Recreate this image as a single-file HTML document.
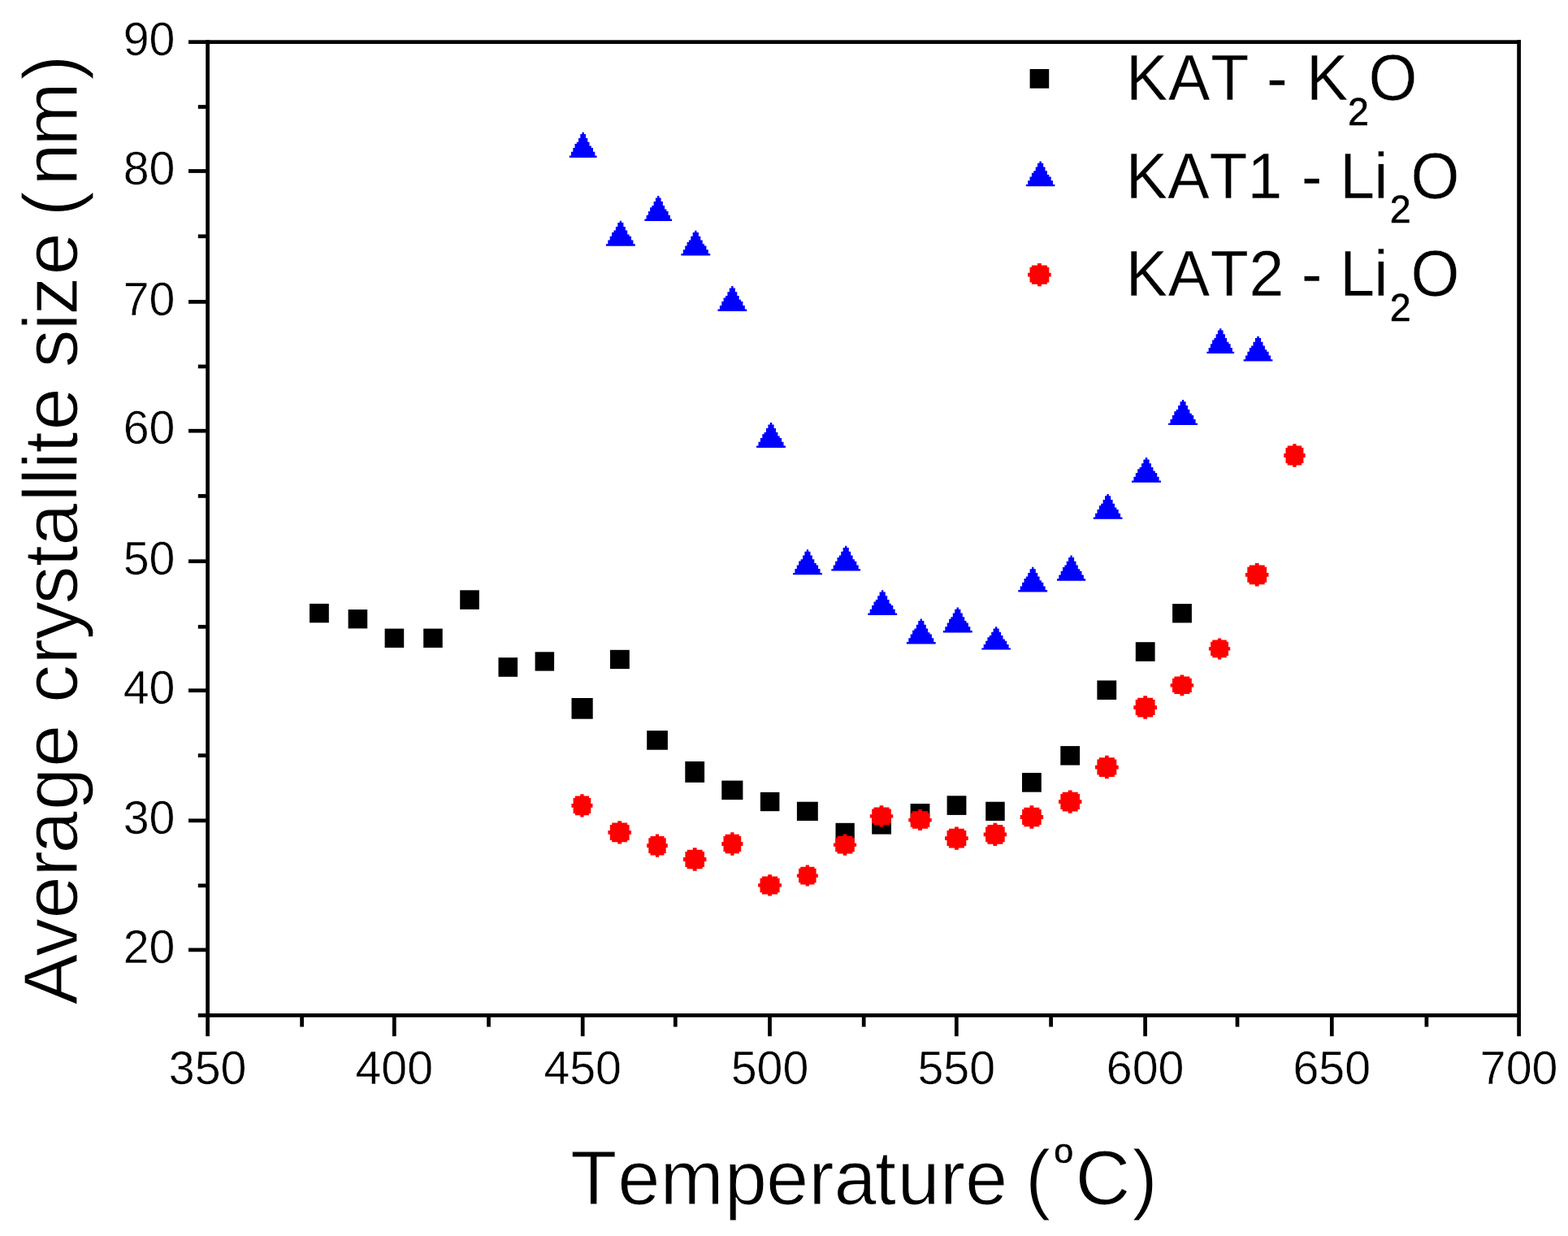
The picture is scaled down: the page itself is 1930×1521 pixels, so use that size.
<!DOCTYPE html>
<html lang="en">
<head>
<meta charset="utf-8">
<title>Average crystallite size vs temperature</title>
<style>
html,body{margin:0;padding:0;background:#fff;}
body{width:1930px;height:1521px;overflow:hidden;}
svg{display:block;}
text{font-family:"Liberation Sans",sans-serif;fill:#000;font-kerning:none;font-variant-ligatures:none;}
.tk{font-size:57.3px;stroke:#fff;stroke-width:0.5px;}
.ttl{font-size:94px;stroke:#fff;stroke-width:1.2px;}
.lg{font-size:77px;stroke:#fff;stroke-width:0.4px;}
.sub{font-size:46.5px;stroke:#000;stroke-width:0.6px;}
.sup{font-size:43px;stroke:#000;stroke-width:0.5px;}
</style>
</head>
<body>
<svg width="1930" height="1521" viewBox="0 0 1930 1521">
<rect x="0" y="0" width="1930" height="1521" fill="#fff"/>

<g fill="#000">
<rect x="253.24" y="49.34" width="4.72" height="1225.86"/>
<rect x="1867.24" y="49.34" width="4.72" height="1225.86"/>
<rect x="232" y="49.34" width="1639.96" height="4.72"/>
<rect x="243.8" y="1247.09" width="1628.16" height="4.72"/>
<rect x="232" y="1166.54" width="23.6" height="4.72"/>
<rect x="232" y="1007.44" width="23.6" height="4.72"/>
<rect x="232" y="847.34" width="23.6" height="4.72"/>
<rect x="232" y="688.34" width="23.6" height="4.72"/>
<rect x="232" y="527.84" width="23.6" height="4.72"/>
<rect x="232" y="369.04" width="23.6" height="4.72"/>
<rect x="232" y="208.14" width="23.6" height="4.72"/>
<rect x="243.8" y="1087.44" width="11.8" height="4.72"/>
<rect x="243.8" y="927.34" width="11.8" height="4.72"/>
<rect x="243.8" y="768.94" width="11.8" height="4.72"/>
<rect x="243.8" y="608.04" width="11.8" height="4.72"/>
<rect x="243.8" y="448.64" width="11.8" height="4.72"/>
<rect x="243.8" y="288.44" width="11.8" height="4.72"/>
<rect x="243.8" y="129.14" width="11.8" height="4.72"/>
<rect x="482.94" y="1249.45" width="4.72" height="25.75"/>
<rect x="714.84" y="1249.45" width="4.72" height="25.75"/>
<rect x="945.14" y="1249.45" width="4.72" height="25.75"/>
<rect x="1174.94" y="1249.45" width="4.72" height="25.75"/>
<rect x="1407.24" y="1249.45" width="4.72" height="25.75"/>
<rect x="1636.94" y="1249.45" width="4.72" height="25.75"/>
<rect x="369.24" y="1249.45" width="4.72" height="14.15"/>
<rect x="599.14" y="1249.45" width="4.72" height="14.15"/>
<rect x="828.94" y="1249.45" width="4.72" height="14.15"/>
<rect x="1060.84" y="1249.45" width="4.72" height="14.15"/>
<rect x="1291.24" y="1249.45" width="4.72" height="14.15"/>
<rect x="1520.64" y="1249.45" width="4.72" height="14.15"/>
<rect x="1753.54" y="1249.45" width="4.72" height="14.15"/>
</g>
<g class="tk" text-anchor="end">
<text x="215.4" y="1185.15">20</text>
<text x="215.4" y="1026.05">30</text>
<text x="215.4" y="865.95">40</text>
<text x="215.4" y="706.95">50</text>
<text x="215.4" y="546.45">60</text>
<text x="215.4" y="387.65">70</text>
<text x="215.4" y="226.75">80</text>
<text x="215.4" y="67.95">90</text>
</g>
<g class="tk" text-anchor="middle">
<text x="255.6" y="1334.2">350</text>
<text x="485.3" y="1334.2">400</text>
<text x="717.2" y="1334.2">450</text>
<text x="947.5" y="1334.2">500</text>
<text x="1177.3" y="1334.2">550</text>
<text x="1409.6" y="1334.2">600</text>
<text x="1639.3" y="1334.2">650</text>
<text x="1869.6" y="1334.2">700</text>
</g>
<text class="ttl" y="1481.6" x="701.9 760.3 812.5 891.8 943 995.2 1026.4 1077.1 1104.6 1156.8 1188 1240.2 1262">Temperature (<tspan class="sup" x="1297.2" dy="-50.6">o</tspan><tspan x="1323.4 1393.6" dy="50.6">C)</tspan></text>
<text class="ttl" transform="translate(94.8 0) rotate(-90)" y="0" x="-1236.6 -1177 -1130.4 -1078.6 -1050.4 -997 -944 -892.1 -865 -817.4 -787 -743.6 -697.3 -671.8 -617.5 -596.8 -577.3 -557.4 -529.5 -477.3 -452.4 -406.6 -387.7 -338.4 -286 -266.4 -228.5 -179.6 -98.8">Average crystallite size (nm)</text>
<g fill="#000"><rect x="1267.6" y="85" width="23.6" height="23.7"/></g>
<g fill="#0000ff"><polygon points="1279.4,198.4 1281.8,198.4 1281.8,200.8 1284.2,200.8 1284.2,205.5 1286.5,205.5 1286.5,210.3 1288.9,210.3 1288.9,215 1291.3,215 1291.3,217.4 1293.7,217.4 1293.7,222.2 1296,222.2 1296,226.9 1298.4,226.9 1298.4,229.3 1262.8,229.3 1262.8,226.9 1265.2,226.9 1265.2,222.2 1267.5,222.2 1267.5,217.4 1269.9,217.4 1269.9,212.7 1272.3,212.7 1272.3,210.3 1274.7,210.3 1274.7,205.5 1277,205.5 1277,200.8 1279.4,200.8"/></g>
<g fill="#ff0000"><polygon points="1277,324 1281.8,324 1281.8,326.4 1288.9,326.4 1288.9,328.7 1291.3,328.7 1291.3,335.8 1293.7,335.8 1293.7,340.4 1291.3,340.4 1291.3,347.5 1288.9,347.5 1288.9,349.8 1281.8,349.8 1281.8,352.2 1277,352.2 1277,349.8 1269.9,349.8 1269.9,347.5 1267.5,347.5 1267.5,340.4 1265.1,340.4 1265.1,335.8 1267.5,335.8 1267.5,328.7 1269.9,328.7 1269.9,326.4 1277,326.4"/></g>
<text class="lg" transform="translate(0 123) scale(1 1.03)" y="0" x="1386 1438.1 1490.2 1538 1559.1 1584.7 1608">KAT - K<tspan class="sub" x="1658.9" dy="29.61">2</tspan><tspan x="1684.6" dy="-29.61">O</tspan></text>
<text class="lg" transform="translate(0 243.7) scale(1 1.03)" y="0" x="1385.8 1437.2 1488.5 1535.5 1578.3 1601.7 1627.3 1649.2 1691.2">KAT1 - Li<tspan class="sub" x="1710.8" dy="29.61">2</tspan><tspan x="1736.4" dy="-29.61">O</tspan></text>
<text class="lg" transform="translate(0 364.4) scale(1 1.03)" y="0" x="1385.8 1437.8 1489.8 1537.5 1581 1601.7 1627.3 1649.2 1691.2">KAT2 - Li<tspan class="sub" x="1710.8" dy="29.61">2</tspan><tspan x="1736.4" dy="-29.61">O</tspan></text>
<g fill="#000">
<rect x="381" y="742.9" width="23.8" height="23.4"/>
<rect x="428.6" y="750.1" width="23.6" height="23.3"/>
<rect x="473.6" y="773.6" width="23.6" height="23.4"/>
<rect x="521.2" y="773.6" width="23.5" height="23.4"/>
<rect x="566.2" y="726.3" width="23.6" height="23.6"/>
<rect x="613.5" y="809.2" width="23.6" height="23.6"/>
<rect x="658.6" y="802.3" width="23.5" height="23.3"/>
<rect x="703.5" y="859" width="26.2" height="25.7"/>
<rect x="751" y="799.8" width="23.8" height="23.3"/>
<rect x="796.2" y="899.1" width="25.7" height="23.6"/>
<rect x="843.3" y="937" width="23.8" height="25.9"/>
<rect x="888.3" y="960.6" width="26.1" height="23.5"/>
<rect x="935.9" y="974.9" width="23.5" height="23.3"/>
<rect x="980.9" y="986.7" width="25.9" height="23.3"/>
<rect x="1028.5" y="1012.8" width="23.3" height="23.6"/>
<rect x="1073.2" y="1003" width="23.8" height="23.6"/>
<rect x="1120.6" y="989" width="23.8" height="23.6"/>
<rect x="1165.6" y="979.3" width="23.8" height="23.6"/>
<rect x="1213.2" y="986.7" width="23.5" height="23.3"/>
<rect x="1258" y="951.1" width="23.8" height="23.6"/>
<rect x="1305.3" y="918.1" width="23.8" height="23.5"/>
<rect x="1350.4" y="837.4" width="23.8" height="23.6"/>
<rect x="1397.8" y="790.2" width="23.8" height="23.6"/>
<rect x="1443.1" y="743.1" width="23.8" height="23.3"/>
</g>
<g fill="#0000ff">
<polygon points="716.5,162.7 718.8,162.7 718.8,165.1 721,165.1 721,169.9 723.3,169.9 723.3,174.7 725.5,174.7 725.5,179.5 727.8,179.5 727.8,181.9 730,181.9 730,186.7 732.3,186.7 732.3,191.5 734.5,191.5 734.5,193.9 700.8,193.9 700.8,191.5 703,191.5 703,186.7 705.3,186.7 705.3,181.9 707.5,181.9 707.5,177.1 709.8,177.1 709.8,174.7 712,174.7 712,169.9 714.3,169.9 714.3,165.1 716.5,165.1"/>
<polygon points="762.7,271.7 765,271.7 765,274.1 767.4,274.1 767.4,278.9 769.8,278.9 769.8,283.6 772.2,283.6 772.2,288.4 774.6,288.4 774.6,290.8 777,290.8 777,295.5 779.4,295.5 779.4,300.3 781.8,300.3 781.8,302.7 745.9,302.7 745.9,300.3 748.3,300.3 748.3,295.5 750.7,295.5 750.7,290.8 753.1,290.8 753.1,286 755.5,286 755.5,283.6 757.9,283.6 757.9,278.9 760.3,278.9 760.3,274.1 762.7,274.1"/>
<polygon points="809.1,241 811.4,241 811.4,243.4 813.6,243.4 813.6,248.1 815.9,248.1 815.9,252.9 818.1,252.9 818.1,257.6 820.4,257.6 820.4,260 822.6,260 822.6,264.8 824.9,264.8 824.9,269.5 827.1,269.5 827.1,271.9 793.4,271.9 793.4,269.5 795.6,269.5 795.6,264.8 797.9,264.8 797.9,260 800.1,260 800.1,255.3 802.4,255.3 802.4,252.9 804.6,252.9 804.6,248.1 806.9,248.1 806.9,243.4 809.1,243.4"/>
<polygon points="855.1,283.7 857.5,283.7 857.5,286.1 859.9,286.1 859.9,290.8 862.3,290.8 862.3,295.5 864.7,295.5 864.7,300.2 867,300.2 867,302.6 869.4,302.6 869.4,307.3 871.8,307.3 871.8,312 874.2,312 874.2,314.4 838.4,314.4 838.4,312 840.8,312 840.8,307.3 843.2,307.3 843.2,302.6 845.6,302.6 845.6,297.9 847.9,297.9 847.9,295.5 850.3,295.5 850.3,290.8 852.7,290.8 852.7,286.1 855.1,286.1"/>
<polygon points="900.2,352.1 902.5,352.1 902.5,354.5 904.9,354.5 904.9,359.2 907.3,359.2 907.3,364 909.7,364 909.7,368.7 912.1,368.7 912.1,371.1 914.4,371.1 914.4,375.9 916.8,375.9 916.8,380.6 919.2,380.6 919.2,383 883.5,383 883.5,380.6 885.9,380.6 885.9,375.9 888.3,375.9 888.3,371.1 890.6,371.1 890.6,366.4 893,366.4 893,364 895.4,364 895.4,359.2 897.8,359.2 897.8,354.5 900.2,354.5"/>
<polygon points="947.8,520 950.2,520 950.2,522.4 952.6,522.4 952.6,527.1 955,527.1 955,531.9 957.4,531.9 957.4,536.6 959.7,536.6 959.7,539 962.1,539 962.1,543.8 964.5,543.8 964.5,548.5 966.9,548.5 966.9,550.9 931.1,550.9 931.1,548.5 933.5,548.5 933.5,543.8 935.9,543.8 935.9,539 938.3,539 938.3,534.3 940.6,534.3 940.6,531.9 943,531.9 943,527.1 945.4,527.1 945.4,522.4 947.8,522.4"/>
<polygon points="992.8,676.3 995.1,676.3 995.1,678.7 997.5,678.7 997.5,683.5 999.9,683.5 999.9,688.2 1002.3,688.2 1002.3,693 1004.7,693 1004.7,695.4 1007.1,695.4 1007.1,700.1 1009.5,700.1 1009.5,704.9 1011.9,704.9 1011.9,707.3 976,707.3 976,704.9 978.4,704.9 978.4,700.1 980.8,700.1 980.8,695.4 983.2,695.4 983.2,690.6 985.6,690.6 985.6,688.2 988,688.2 988,683.5 990.4,683.5 990.4,678.7 992.8,678.7"/>
<polygon points="1040,671.7 1042.4,671.7 1042.4,674.1 1044.8,674.1 1044.8,678.8 1047.2,678.8 1047.2,683.6 1049.6,683.6 1049.6,688.3 1051.9,688.3 1051.9,690.7 1054.3,690.7 1054.3,695.5 1056.7,695.5 1056.7,700.2 1059.1,700.2 1059.1,702.6 1023.3,702.6 1023.3,700.2 1025.7,700.2 1025.7,695.5 1028.1,695.5 1028.1,690.7 1030.5,690.7 1030.5,686 1032.8,686 1032.8,683.6 1035.2,683.6 1035.2,678.8 1037.6,678.8 1037.6,674.1 1040,674.1"/>
<polygon points="1085,726.2 1087.4,726.2 1087.4,728.6 1089.8,728.6 1089.8,733.3 1092.2,733.3 1092.2,738 1094.6,738 1094.6,742.7 1096.9,742.7 1096.9,745.1 1099.3,745.1 1099.3,749.8 1101.7,749.8 1101.7,754.5 1104.1,754.5 1104.1,756.9 1068.3,756.9 1068.3,754.5 1070.7,754.5 1070.7,749.8 1073.1,749.8 1073.1,745.1 1075.5,745.1 1075.5,740.4 1077.8,740.4 1077.8,738 1080.2,738 1080.2,733.3 1082.6,733.3 1082.6,728.6 1085,728.6"/>
<polygon points="1132.6,761.5 1135,761.5 1135,763.9 1137.4,763.9 1137.4,768.7 1139.8,768.7 1139.8,773.4 1142.2,773.4 1142.2,778.2 1144.5,778.2 1144.5,780.6 1146.9,780.6 1146.9,785.3 1149.3,785.3 1149.3,790.1 1151.7,790.1 1151.7,792.5 1115.9,792.5 1115.9,790.1 1118.3,790.1 1118.3,785.3 1120.7,785.3 1120.7,780.6 1123.1,780.6 1123.1,775.8 1125.4,775.8 1125.4,773.4 1127.8,773.4 1127.8,768.7 1130.2,768.7 1130.2,763.9 1132.6,763.9"/>
<polygon points="1177.6,747.4 1180,747.4 1180,749.8 1182.4,749.8 1182.4,754.6 1184.8,754.6 1184.8,759.3 1187.2,759.3 1187.2,764.1 1189.5,764.1 1189.5,766.5 1191.9,766.5 1191.9,771.2 1194.3,771.2 1194.3,776 1196.7,776 1196.7,778.4 1160.9,778.4 1160.9,776 1163.3,776 1163.3,771.2 1165.7,771.2 1165.7,766.5 1168.1,766.5 1168.1,761.7 1170.4,761.7 1170.4,759.3 1172.8,759.3 1172.8,754.6 1175.2,754.6 1175.2,749.8 1177.6,749.8"/>
<polygon points="1225,771.2 1227.3,771.2 1227.3,773.4 1229.7,773.4 1229.7,777.8 1232.1,777.8 1232.1,782.1 1234.5,782.1 1234.5,786.5 1236.9,786.5 1236.9,788.7 1239.2,788.7 1239.2,793 1241.6,793 1241.6,797.4 1244,797.4 1244,799.6 1208.3,799.6 1208.3,797.4 1210.7,797.4 1210.7,793 1213.1,793 1213.1,788.7 1215.4,788.7 1215.4,784.3 1217.8,784.3 1217.8,782.1 1220.2,782.1 1220.2,777.8 1222.6,777.8 1222.6,773.4 1225,773.4"/>
<polygon points="1270,697.8 1272.4,697.8 1272.4,700.2 1274.8,700.2 1274.8,704.9 1277.2,704.9 1277.2,709.6 1279.6,709.6 1279.6,714.3 1281.9,714.3 1281.9,716.7 1284.3,716.7 1284.3,721.4 1286.7,721.4 1286.7,726.1 1289.1,726.1 1289.1,728.5 1253.3,728.5 1253.3,726.1 1255.7,726.1 1255.7,721.4 1258.1,721.4 1258.1,716.7 1260.5,716.7 1260.5,712 1262.8,712 1262.8,709.6 1265.2,709.6 1265.2,704.9 1267.6,704.9 1267.6,700.2 1270,700.2"/>
<polygon points="1317.4,683.5 1319.8,683.5 1319.8,685.9 1322.1,685.9 1322.1,690.7 1324.5,690.7 1324.5,695.5 1326.8,695.5 1326.8,700.3 1329.2,700.3 1329.2,702.7 1331.5,702.7 1331.5,707.5 1333.9,707.5 1333.9,712.3 1336.2,712.3 1336.2,714.7 1301,714.7 1301,712.3 1303.3,712.3 1303.3,707.5 1305.7,707.5 1305.7,702.7 1308,702.7 1308,697.9 1310.4,697.9 1310.4,695.5 1312.7,695.5 1312.7,690.7 1315.1,690.7 1315.1,685.9 1317.4,685.9"/>
<polygon points="1362.4,607.9 1364.8,607.9 1364.8,610.3 1367.2,610.3 1367.2,615 1369.6,615 1369.6,619.8 1372,619.8 1372,624.5 1374.3,624.5 1374.3,626.9 1376.7,626.9 1376.7,631.7 1379.1,631.7 1379.1,636.4 1381.5,636.4 1381.5,638.8 1345.7,638.8 1345.7,636.4 1348.1,636.4 1348.1,631.7 1350.5,631.7 1350.5,626.9 1352.9,626.9 1352.9,622.2 1355.2,622.2 1355.2,619.8 1357.6,619.8 1357.6,615 1360,615 1360,610.3 1362.4,610.3"/>
<polygon points="1409.8,563.1 1412.2,563.1 1412.2,565.5 1414.6,565.5 1414.6,570.2 1417,570.2 1417,574.9 1419.4,574.9 1419.4,579.6 1421.8,579.6 1421.8,582 1424.2,582 1424.2,586.7 1426.6,586.7 1426.6,591.4 1429,591.4 1429,593.8 1393,593.8 1393,591.4 1395.4,591.4 1395.4,586.7 1397.8,586.7 1397.8,582 1400.2,582 1400.2,577.3 1402.6,577.3 1402.6,574.9 1405,574.9 1405,570.2 1407.4,570.2 1407.4,565.5 1409.8,565.5"/>
<polygon points="1454.9,491.9 1457.2,491.9 1457.2,494.3 1459.6,494.3 1459.6,499.1 1462,499.1 1462,503.9 1464.4,503.9 1464.4,508.7 1466.8,508.7 1466.8,511.1 1469.2,511.1 1469.2,515.9 1471.6,515.9 1471.6,520.7 1474,520.7 1474,523.1 1438.1,523.1 1438.1,520.7 1440.5,520.7 1440.5,515.9 1442.9,515.9 1442.9,511.1 1445.3,511.1 1445.3,506.3 1447.7,506.3 1447.7,503.9 1450.1,503.9 1450.1,499.1 1452.5,499.1 1452.5,494.3 1454.9,494.3"/>
<polygon points="1501.1,404.2 1503.4,404.2 1503.4,406.6 1505.6,406.6 1505.6,411.3 1507.9,411.3 1507.9,416.1 1510.1,416.1 1510.1,420.8 1512.4,420.8 1512.4,423.2 1514.6,423.2 1514.6,428 1516.9,428 1516.9,432.7 1519.1,432.7 1519.1,435.1 1485.4,435.1 1485.4,432.7 1487.6,432.7 1487.6,428 1489.9,428 1489.9,423.2 1492.1,423.2 1492.1,418.5 1494.4,418.5 1494.4,416.1 1496.6,416.1 1496.6,411.3 1498.9,411.3 1498.9,406.6 1501.1,406.6"/>
<polygon points="1547.3,413.7 1549.7,413.7 1549.7,416.1 1552.1,416.1 1552.1,420.8 1554.5,420.8 1554.5,425.6 1556.9,425.6 1556.9,430.3 1559.2,430.3 1559.2,432.7 1561.6,432.7 1561.6,437.5 1564,437.5 1564,442.2 1566.4,442.2 1566.4,444.6 1530.6,444.6 1530.6,442.2 1533,442.2 1533,437.5 1535.4,437.5 1535.4,432.7 1537.8,432.7 1537.8,428 1540.1,428 1540.1,425.6 1542.5,425.6 1542.5,420.8 1544.9,420.8 1544.9,416.1 1547.3,416.1"/>
</g>
<g fill="#ff0000">
<polygon points="714.3,977.2 718.6,977.2 718.6,979.6 725.1,979.6 725.1,981.9 727.3,981.9 727.3,989 729.5,989 729.5,993.8 727.3,993.8 727.3,1000.9 725.1,1000.9 725.1,1003.2 718.6,1003.2 718.6,1005.6 714.3,1005.6 714.3,1003.2 707.8,1003.2 707.8,1000.9 705.6,1000.9 705.6,993.8 703.4,993.8 703.4,989 705.6,989 705.6,981.9 707.8,981.9 707.8,979.6 714.3,979.6"/>
<polygon points="760.3,1010.2 765.1,1010.2 765.1,1012.6 772.2,1012.6 772.2,1014.9 774.6,1014.9 774.6,1022 777,1022 777,1026.8 774.6,1026.8 774.6,1033.9 772.2,1033.9 772.2,1036.2 765.1,1036.2 765.1,1038.6 760.3,1038.6 760.3,1036.2 753.2,1036.2 753.2,1033.9 750.8,1033.9 750.8,1026.8 748.4,1026.8 748.4,1022 750.8,1022 750.8,1014.9 753.2,1014.9 753.2,1012.6 760.3,1012.6"/>
<polygon points="806.9,1026.6 811.1,1026.6 811.1,1028.9 817.5,1028.9 817.5,1031.3 819.7,1031.3 819.7,1038.3 821.8,1038.3 821.8,1043 819.7,1043 819.7,1050.1 817.5,1050.1 817.5,1052.5 811.1,1052.5 811.1,1054.8 806.9,1054.8 806.9,1052.5 800.5,1052.5 800.5,1050.1 798.3,1050.1 798.3,1043 796.2,1043 796.2,1038.3 798.3,1038.3 798.3,1031.3 800.5,1031.3 800.5,1028.9 806.9,1028.9"/>
<polygon points="852.8,1043.3 857.6,1043.3 857.6,1045.7 864.7,1045.7 864.7,1048 867,1048 867,1055.1 869.4,1055.1 869.4,1059.9 867,1059.9 867,1067 864.7,1067 864.7,1069.3 857.6,1069.3 857.6,1071.7 852.8,1071.7 852.8,1069.3 845.7,1069.3 845.7,1067 843.4,1067 843.4,1059.9 841,1059.9 841,1055.1 843.4,1055.1 843.4,1048 845.7,1048 845.7,1045.7 852.8,1045.7"/>
<polygon points="899.2,1024.3 903.5,1024.3 903.5,1026.7 910,1026.7 910,1029 912.2,1029 912.2,1036.1 914.4,1036.1 914.4,1040.9 912.2,1040.9 912.2,1048 910,1048 910,1050.3 903.5,1050.3 903.5,1052.7 899.2,1052.7 899.2,1050.3 892.6,1050.3 892.6,1048 890.5,1048 890.5,1040.9 888.3,1040.9 888.3,1036.1 890.5,1036.1 890.5,1029 892.6,1029 892.6,1026.7 899.2,1026.7"/>
<polygon points="945.1,1076.3 950,1076.3 950,1078.5 957.2,1078.5 957.2,1080.7 959.6,1080.7 959.6,1087.3 962,1087.3 962,1091.6 959.6,1091.6 959.6,1098.2 957.2,1098.2 957.2,1100.4 950,1100.4 950,1102.6 945.1,1102.6 945.1,1100.4 937.9,1100.4 937.9,1098.2 935.5,1098.2 935.5,1091.6 933.1,1091.6 933.1,1087.3 935.5,1087.3 935.5,1080.7 937.9,1080.7 937.9,1078.5 945.1,1078.5"/>
<polygon points="991.7,1064.5 996,1064.5 996,1066.7 1002.5,1066.7 1002.5,1068.8 1004.6,1068.8 1004.6,1075.4 1006.8,1075.4 1006.8,1079.7 1004.6,1079.7 1004.6,1086.2 1002.5,1086.2 1002.5,1088.4 996,1088.4 996,1090.6 991.7,1090.6 991.7,1088.4 985.2,1088.4 985.2,1086.2 983.1,1086.2 983.1,1079.7 980.9,1079.7 980.9,1075.4 983.1,1075.4 983.1,1068.8 985.2,1068.8 985.2,1066.7 991.7,1066.7"/>
<polygon points="1037.7,1026.6 1042.3,1026.6 1042.3,1028.8 1049.4,1028.8 1049.4,1030.9 1051.8,1030.9 1051.8,1037.5 1054.1,1037.5 1054.1,1041.8 1051.8,1041.8 1051.8,1048.3 1049.4,1048.3 1049.4,1050.5 1042.3,1050.5 1042.3,1052.7 1037.7,1052.7 1037.7,1050.5 1030.6,1050.5 1030.6,1048.3 1028.2,1048.3 1028.2,1041.8 1025.9,1041.8 1025.9,1037.5 1028.2,1037.5 1028.2,1030.9 1030.6,1030.9 1030.6,1028.8 1037.7,1028.8"/>
<polygon points="1082.6,991.3 1087.4,991.3 1087.4,993.5 1094.5,993.5 1094.5,995.6 1096.8,995.6 1096.8,1002.2 1099.2,1002.2 1099.2,1006.5 1096.8,1006.5 1096.8,1013 1094.5,1013 1094.5,1015.2 1087.4,1015.2 1087.4,1017.4 1082.6,1017.4 1082.6,1015.2 1075.5,1015.2 1075.5,1013 1073.2,1013 1073.2,1006.5 1070.8,1006.5 1070.8,1002.2 1073.2,1002.2 1073.2,995.6 1075.5,995.6 1075.5,993.5 1082.6,993.5"/>
<polygon points="1130.1,996.1 1134.9,996.1 1134.9,998.3 1142,998.3 1142,1000.4 1144.3,1000.4 1144.3,1006.9 1146.7,1006.9 1146.7,1011.2 1144.3,1011.2 1144.3,1017.7 1142,1017.7 1142,1019.8 1134.9,1019.8 1134.9,1022 1130.1,1022 1130.1,1019.8 1123,1019.8 1123,1017.7 1120.7,1017.7 1120.7,1011.2 1118.3,1011.2 1118.3,1006.9 1120.7,1006.9 1120.7,1000.4 1123,1000.4 1123,998.3 1130.1,998.3"/>
<polygon points="1175,1017.4 1179.8,1017.4 1179.8,1019.8 1186.9,1019.8 1186.9,1022.1 1189.3,1022.1 1189.3,1029.2 1191.7,1029.2 1191.7,1034 1189.3,1034 1189.3,1041.1 1186.9,1041.1 1186.9,1043.4 1179.8,1043.4 1179.8,1045.8 1175,1045.8 1175,1043.4 1167.9,1043.4 1167.9,1041.1 1165.5,1041.1 1165.5,1034 1163.1,1034 1163.1,1029.2 1165.5,1029.2 1165.5,1022.1 1167.9,1022.1 1167.9,1019.8 1175,1019.8"/>
<polygon points="1222.5,1012.8 1227.3,1012.8 1227.3,1015.1 1234.4,1015.1 1234.4,1017.5 1236.7,1017.5 1236.7,1024.5 1239.1,1024.5 1239.1,1029.2 1236.7,1029.2 1236.7,1036.3 1234.4,1036.3 1234.4,1038.7 1227.3,1038.7 1227.3,1041 1222.5,1041 1222.5,1038.7 1215.4,1038.7 1215.4,1036.3 1213.1,1036.3 1213.1,1029.2 1210.7,1029.2 1210.7,1024.5 1213.1,1024.5 1213.1,1017.5 1215.4,1017.5 1215.4,1015.1 1222.5,1015.1"/>
<polygon points="1267.5,991.3 1272.3,991.3 1272.3,993.7 1279.4,993.7 1279.4,996 1281.7,996 1281.7,1003.1 1284.1,1003.1 1284.1,1007.9 1281.7,1007.9 1281.7,1015 1279.4,1015 1279.4,1017.3 1272.3,1017.3 1272.3,1019.7 1267.5,1019.7 1267.5,1017.3 1260.4,1017.3 1260.4,1015 1258.1,1015 1258.1,1007.9 1255.7,1007.9 1255.7,1003.1 1258.1,1003.1 1258.1,996 1260.4,996 1260.4,993.7 1267.5,993.7"/>
<polygon points="1314.8,972.4 1319.6,972.4 1319.6,974.8 1326.7,974.8 1326.7,977.1 1329,977.1 1329,984.2 1331.4,984.2 1331.4,989 1329,989 1329,996.1 1326.7,996.1 1326.7,998.4 1319.6,998.4 1319.6,1000.8 1314.8,1000.8 1314.8,998.4 1307.7,998.4 1307.7,996.1 1305.4,996.1 1305.4,989 1303,989 1303,984.2 1305.4,984.2 1305.4,977.1 1307.7,977.1 1307.7,974.8 1314.8,974.8"/>
<polygon points="1360,929.8 1364.7,929.8 1364.7,932.2 1371.9,932.2 1371.9,934.5 1374.3,934.5 1374.3,941.7 1376.7,941.7 1376.7,946.4 1374.3,946.4 1374.3,953.5 1371.9,953.5 1371.9,955.9 1364.7,955.9 1364.7,958.3 1360,958.3 1360,955.9 1352.8,955.9 1352.8,953.5 1350.4,953.5 1350.4,946.4 1348,946.4 1348,941.7 1350.4,941.7 1350.4,934.5 1352.8,934.5 1352.8,932.2 1360,932.2"/>
<polygon points="1407.3,856.3 1412,856.3 1412,858.7 1419.2,858.7 1419.2,861 1421.6,861 1421.6,868.2 1424,868.2 1424,872.9 1421.6,872.9 1421.6,880 1419.2,880 1419.2,882.4 1412,882.4 1412,884.8 1407.3,884.8 1407.3,882.4 1400.1,882.4 1400.1,880 1397.7,880 1397.7,872.9 1395.3,872.9 1395.3,868.2 1397.7,868.2 1397.7,861 1400.1,861 1400.1,858.7 1407.3,858.7"/>
<polygon points="1452.5,830.4 1457.3,830.4 1457.3,832.6 1464.4,832.6 1464.4,834.7 1466.8,834.7 1466.8,841.2 1469.2,841.2 1469.2,845.5 1466.8,845.5 1466.8,852 1464.4,852 1464.4,854.1 1457.3,854.1 1457.3,856.3 1452.5,856.3 1452.5,854.1 1445.4,854.1 1445.4,852 1443,852 1443,845.5 1440.6,845.5 1440.6,841.2 1443,841.2 1443,834.7 1445.4,834.7 1445.4,832.6 1452.5,832.6"/>
<polygon points="1498.9,785.4 1503.2,785.4 1503.2,787.6 1509.8,787.6 1509.8,789.8 1512,789.8 1512,796.3 1514.2,796.3 1514.2,800.6 1512,800.6 1512,807.1 1509.8,807.1 1509.8,809.3 1503.2,809.3 1503.2,811.5 1498.9,811.5 1498.9,809.3 1492.3,809.3 1492.3,807.1 1490.1,807.1 1490.1,800.6 1487.9,800.6 1487.9,796.3 1490.1,796.3 1490.1,789.8 1492.3,789.8 1492.3,787.6 1498.9,787.6"/>
<polygon points="1544.8,693 1549.6,693 1549.6,695.4 1556.7,695.4 1556.7,697.8 1559.1,697.8 1559.1,704.9 1561.5,704.9 1561.5,709.7 1559.1,709.7 1559.1,716.8 1556.7,716.8 1556.7,719.2 1549.6,719.2 1549.6,721.6 1544.8,721.6 1544.8,719.2 1537.7,719.2 1537.7,716.8 1535.3,716.8 1535.3,709.7 1532.9,709.7 1532.9,704.9 1535.3,704.9 1535.3,697.8 1537.7,697.8 1537.7,695.4 1544.8,695.4"/>
<polygon points="1591.3,546.2 1595.6,546.2 1595.6,548.6 1602.2,548.6 1602.2,551 1604.4,551 1604.4,558.1 1606.6,558.1 1606.6,562.9 1604.4,562.9 1604.4,570 1602.2,570 1602.2,572.4 1595.6,572.4 1595.6,574.8 1591.3,574.8 1591.3,572.4 1584.7,572.4 1584.7,570 1582.5,570 1582.5,562.9 1580.3,562.9 1580.3,558.1 1582.5,558.1 1582.5,551 1584.7,551 1584.7,548.6 1591.3,548.6"/>
</g>
</svg>
</body>
</html>
